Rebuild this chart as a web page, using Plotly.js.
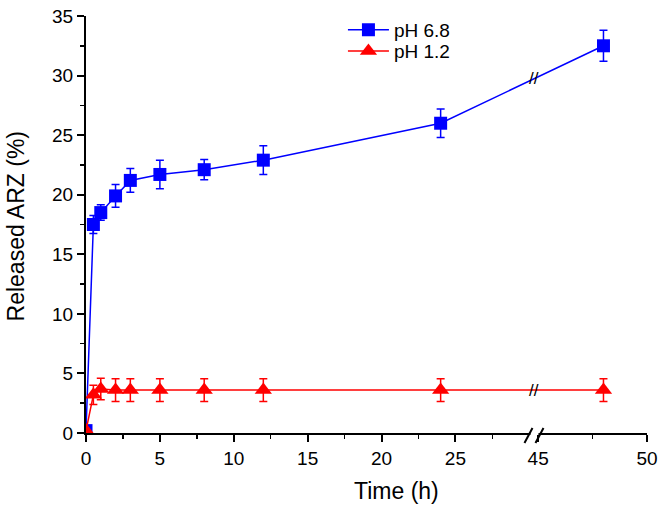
<!DOCTYPE html>
<html><head><meta charset="utf-8">
<script src="https://cdn.plot.ly/plotly-3.0.1.min.js"></script>
<style>body{margin:0;background:#fff}#chart{width:663px;height:511px}</style>
</head><body><div id="chart"></div>
<script>
// ---- data ----
const time = [0, 0.5, 1, 2, 3, 5, 8, 12, 24, 48];
const ph68 = [0.2, 17.5, 18.5, 19.9, 21.2, 21.7, 22.1, 22.9, 26.0, 32.5];
const ph68Err = [0, 0.75, 0.65, 0.95, 1.0, 1.2, 0.85, 1.2, 1.2, 1.3];
const ph12 = [0.2, 3.2, 3.7, 3.6, 3.6, 3.6, 3.6, 3.6, 3.6, 3.6];
const ph12Err = [0, 0.8, 0.9, 0.95, 0.95, 0.95, 0.95, 0.95, 0.95, 0.95];
const xTickVals = [0, 5, 10, 15, 20, 25, 45, 50];
const xTickText = ['0', '5', '10', '15', '20', '25', '45', '50'];
const xMinorVals = [2.5, 7.5, 12.5, 17.5, 22.5, 27.5, 47.5];
const legendNames = ['pH 6.8', 'pH 1.2'];
const xTitle = 'Time (h)';
const yTitle = 'Released ARZ (%)';

// ---- broken x-axis mapping (0-30 linear, 45-50 stretched) ----
const BREAK_AT = 30.35;     // where the break marks sit (left-scale units)
const RIGHT_START = 30.6;   // left-scale position of 45
const RIGHT_SCALE = 1.473;  // right segment stretch
const T = x => (x <= 30 ? x : RIGHT_START + (x - 45) * RIGHT_SCALE);

const tx = time.map(T);
const font = 'Arial, "Liberation Sans", sans-serif';

function interpAtBreak(xs, ys) {
  for (let i = 0; i < xs.length - 1; i++) {
    if (xs[i] <= BREAK_AT && xs[i + 1] >= BREAK_AT) {
      const f = (BREAK_AT - xs[i]) / (xs[i + 1] - xs[i]);
      return ys[i] + f * (ys[i + 1] - ys[i]);
    }
  }
  return null;
}

const traces = [
  {
    x: tx, y: ph68, name: legendNames[0], type: 'scatter', mode: 'lines+markers', legend: 'legend',
    line: {color: '#0000ff', width: 1.5},
    marker: {symbol: 'square', size: 13, color: '#0000ff'},
    error_y: {type: 'data', array: ph68Err, visible: true, color: '#0000ff', thickness: 1.5, width: 4}
  },
  {
    x: tx, y: ph12, name: legendNames[1], type: 'scatter', mode: 'lines+markers', legend: 'legend2',
    line: {color: '#ff0000', width: 1.5},
    marker: {symbol: 'triangle-up', size: 15, color: '#ff0000'},
    error_y: {type: 'data', array: ph12Err, visible: true, color: '#ff0000', thickness: 1.5, width: 4}
  }
];

const breakAnn = [ph68, ph12].map(ys => ({
  x: BREAK_AT, y: interpAtBreak(tx, ys), xref: 'x', yref: 'y',
  text: '//', showarrow: false, font: {family: font, size: 17, color: '#000'}
}));

const legendCommon = {xanchor: 'left', yanchor: 'top', bgcolor: 'rgba(0,0,0,0)',
                      font: {family: font, size: 19}, itemwidth: 41};

const layout = {
  width: 663, height: 511,
  margin: {l: 86, r: 16, t: 15, b: 78},
  paper_bgcolor: '#fff', plot_bgcolor: '#fff',
  font: {family: font, color: '#000', size: 19},
  showlegend: true,
  legend: Object.assign({x: 0.458, y: 1.01}, legendCommon),
  legend2: Object.assign({x: 0.458, y: 0.959}, legendCommon),
  xaxis: {
    range: [0, T(50)], tickmode: 'array', tickvals: xTickVals.map(T), ticktext: xTickText,
    showline: true, linecolor: '#000', linewidth: 2, mirror: false,
    ticks: 'outside', ticklen: 7, tickwidth: 2, tickcolor: '#000',
    minor: {tickmode: 'array', tickvals: xMinorVals.map(T), ticks: 'outside', ticklen: 4, tickwidth: 1.5, tickcolor: '#000', showgrid: false},
    showgrid: false, zeroline: false, tickfont: {size: 19}
  },
  yaxis: {
    range: [0, 35], dtick: 5, tick0: 0,
    showline: true, linecolor: '#000', linewidth: 2, mirror: false,
    ticks: 'outside', ticklen: 7, tickwidth: 2, tickcolor: '#000',
    minor: {dtick: 2.5, ticks: 'outside', ticklen: 4, tickwidth: 1.5, tickcolor: '#000', showgrid: false},
    showgrid: false, zeroline: false, tickfont: {size: 19}
  },
  annotations: breakAnn.concat([
    {text: xTitle, xref: 'paper', yref: 'paper', x: 0.554, y: -0.138, xanchor: 'center', yanchor: 'middle',
     showarrow: false, font: {family: font, size: 23, color: '#000'}},
    {text: yTitle, xref: 'paper', yref: 'paper', x: -0.125, y: 0.495, xanchor: 'center', yanchor: 'middle',
     textangle: -90, showarrow: false, font: {family: font, size: 23, color: '#000'}}
  ]),
  shapes: [
    // white gap in the x axis line
    {type: 'rect', xref: 'x', yref: 'paper', xsizemode: 'pixel', ysizemode: 'pixel',
     xanchor: BREAK_AT, yanchor: 0, x0: -4, x1: 4, y0: -2, y1: 2,
     fillcolor: '#fff', line: {width: 0}, layer: 'above'},
    {type: 'line', xref: 'x', yref: 'paper', xsizemode: 'pixel', ysizemode: 'pixel',
     xanchor: BREAK_AT, yanchor: 0, x0: -10, x1: -2, y0: -10, y1: 5,
     line: {color: '#000', width: 2}, layer: 'above'},
    {type: 'line', xref: 'x', yref: 'paper', xsizemode: 'pixel', ysizemode: 'pixel',
     xanchor: BREAK_AT, yanchor: 0, x0: 1, x1: 9, y0: -10, y1: 5,
     line: {color: '#000', width: 2}, layer: 'above'}
  ]
};

Plotly.newPlot('chart', traces, layout, {staticPlot: true, displayModeBar: false});
</script></body></html>
